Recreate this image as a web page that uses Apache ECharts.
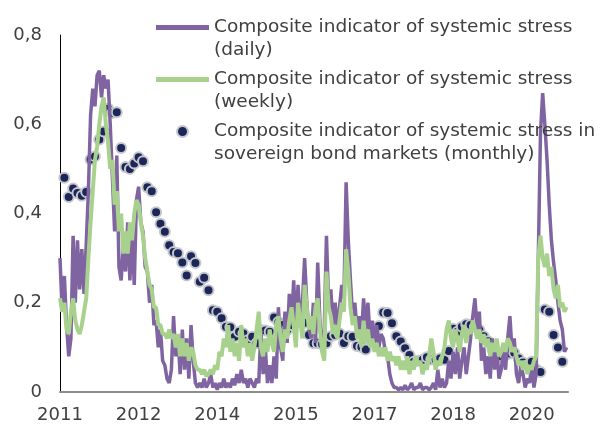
<!DOCTYPE html>
<html>
<head>
<meta charset="utf-8">
<script src="https://cdn.jsdelivr.net/npm/echarts@6/dist/echarts.min.js"></script>
<style>
  html, body { margin: 0; padding: 0; background: #fff; }
  #chart { width: 601px; height: 425px; }
</style>
</head>
<body>
<div id="chart"></div>
<script>
// x is counted in months from January 2011
const startYear = 2011;
const tickStep = 18; // a label every 18 months
const lineStep = 0.5; // daily / weekly series sampled every half month

const names = [
  'Composite indicator of systemic stress\n(daily)',
  'Composite indicator of systemic stress\n(weekly)',
  'Composite indicator of systemic stress in\nsovereign bond markets (monthly)'
];

const daily = [
  0.30,0.18, 0.26,0.15, 0.08,0.12, 0.35,0.20, 0.34,0.23, 0.32,0.22, 0.33,0.45, 0.62,0.68, 0.64,0.71, 0.72,0.66, 0.71,0.68, 0.70,0.60,
  0.48,0.36, 0.53,0.28, 0.25,0.33, 0.27,0.38, 0.25,0.36, 0.24,0.43, 0.46,0.38, 0.36,0.28, 0.27,0.20, 0.24,0.15, 0.16,0.10, 0.14,0.07,
  0.06,0.03, 0.02,0.05, 0.17,0.08, 0.13,0.04, 0.14,0.05, 0.12,0.03, 0.15,0.07, 0.02,0.01, 0.02,0.01, 0.03,0.01, 0.02,0.04, 0.01,0.02,
  0.005,0.02, 0.01,0.03, 0.01,0.02, 0.01,0.03, 0.015,0.04, 0.02,0.05, 0.02,0.03, 0.01,0.03, 0.02,0.01, 0.03,0.02, 0.14,0.04, 0.10,0.02,
  0.06,0.02, 0.08,0.03, 0.19,0.10, 0.07,0.18, 0.11,0.22, 0.15,0.25, 0.14,0.24, 0.15,0.20, 0.30,0.20, 0.14,0.12, 0.20,0.11, 0.29,0.16,
  0.09,0.14, 0.35,0.20, 0.23,0.15, 0.20,0.14, 0.19,0.24, 0.21,0.47, 0.34,0.25, 0.17,0.20, 0.14,0.17, 0.12,0.21, 0.14,0.20, 0.12,0.16,
  0.11,0.15, 0.10,0.13, 0.12,0.09, 0.08,0.04, 0.02,0.01, 0.01,0.005, 0.01,0.005, 0.015,0.005, 0.01,0.02, 0.005,0.01, 0.01,0.02, 0.005,0.01,
  0.01,0.005, 0.01,0.02, 0.005,0.05, 0.01,0.03, 0.01,0.02, 0.07,0.03, 0.09,0.04, 0.10,0.03, 0.07,0.10, 0.04,0.08, 0.12,0.17, 0.21,0.14,
  0.18,0.07, 0.10,0.04, 0.08,0.03, 0.12,0.05, 0.10,0.03, 0.05,0.09, 0.05,0.12, 0.17,0.09, 0.12,0.04, 0.02,0.06, 0.04,0.01, 0.03,0.02,
  0.06,0.01, 0.04,0.30, 0.58,0.67, 0.60,0.52, 0.42,0.34, 0.29,0.25, 0.20,0.16, 0.14,0.09, 0.10
];

const weekly = [
  0.21,0.18, 0.20,0.14, 0.13,0.18, 0.21,0.16, 0.14,0.13, 0.15,0.18, 0.21,0.30, 0.38,0.45, 0.52,0.55, 0.60,0.64, 0.66,0.60, 0.56,0.50,
  0.52,0.42, 0.45,0.36, 0.40,0.31, 0.36,0.31, 0.38,0.34, 0.40,0.43, 0.42,0.38, 0.35,0.30, 0.27,0.24, 0.23,0.19, 0.19,0.15, 0.15,0.13,
  0.13,0.12, 0.14,0.12, 0.13,0.10, 0.13,0.08, 0.12,0.08, 0.11,0.07, 0.10,0.09, 0.06,0.05, 0.05,0.04, 0.05,0.035, 0.04,0.05, 0.04,0.06,
  0.05,0.09, 0.08,0.12, 0.10,0.15, 0.09,0.12, 0.08,0.11, 0.07,0.15, 0.10,0.12, 0.08,0.11, 0.07,0.10, 0.14,0.18, 0.10,0.08, 0.12,0.09,
  0.14,0.11, 0.09,0.15, 0.17,0.12, 0.09,0.14, 0.12,0.16, 0.19,0.15, 0.10,0.20, 0.16,0.12, 0.24,0.19, 0.14,0.17, 0.13,0.19, 0.21,0.14,
  0.09,0.07, 0.27,0.19, 0.17,0.13, 0.15,0.12, 0.16,0.20, 0.18,0.32, 0.27,0.19, 0.15,0.17, 0.12,0.14, 0.10,0.16, 0.11,0.14, 0.10,0.12,
  0.09,0.11, 0.08,0.10, 0.08,0.10, 0.07,0.09, 0.07,0.08, 0.06,0.08, 0.05,0.07, 0.05,0.08, 0.04,0.07, 0.05,0.08, 0.06,0.07, 0.04,0.06,
  0.05,0.08, 0.12,0.09, 0.05,0.07, 0.06,0.08, 0.10,0.14, 0.16,0.12, 0.10,0.14, 0.12,0.09, 0.13,0.15, 0.11,0.14, 0.13,0.16, 0.14,0.12,
  0.14,0.11, 0.13,0.10, 0.12,0.08, 0.11,0.09, 0.12,0.08, 0.09,0.11, 0.09,0.12, 0.11,0.09, 0.10,0.08, 0.06,0.07, 0.05,0.07, 0.04,0.06,
  0.05,0.07, 0.08,0.30, 0.35,0.30, 0.28,0.31, 0.26,0.28, 0.23,0.21, 0.24,0.19, 0.20,0.18, 0.19
];

// month-end readings, months 1..115
const monthly = [
  0.48,0.437,0.456,0.446,0.44,0.448,0.521,0.528,0.566,0.584,
  0.635,0.625,0.627,0.547,0.504,0.50,0.512,0.526,0.517,0.459,
  0.45,0.403,0.377,0.359,0.329,0.314,0.311,0.29,0.261,0.304,
  0.289,0.247,0.256,0.228,0.183,0.18,0.165,0.146,0.145,0.124,
  0.135,0.131,0.116,0.124,0.109,0.139,0.138,0.135,0.167,0.157,
  0.15,0.139,0.15,0.165,0.172,0.155,0.128,0.109,0.109,0.107,
  0.109,0.125,0.128,0.131,0.11,0.125,0.124,0.103,0.101,0.095,
  0.118,0.135,0.148,0.178,0.177,0.154,0.125,0.113,0.098,0.083,
  0.068,0.07,0.072,0.078,0.073,0.072,0.075,0.072,0.092,0.142,
  0.135,0.146,0.152,0.15,0.146,0.139,0.125,0.114,0.095,0.086,
  0.08,0.083,0.086,0.088,0.075,0.066,0.06,0.068,0.051,0.045,
  0.185,0.18,0.128,0.10,0.068
];

const textColor = '#404040';
const font = 'DejaVu Sans';
const lineIcon = 'path://M0,0H53V5H0Z';

let chartDom = document.getElementById('chart');
let myChart = echarts.init(chartDom);
let option;

option = {
  animation: false,
  backgroundColor: '#fff',
  grid: { left: 60, right: 33, top: 35, bottom: 33 },
  legend: {
    orient: 'vertical',
    left: 156,
    top: -7,
    padding: 0,
    itemGap: -17,
    itemWidth: 53,
    itemHeight: 11,
    // leading empty line keeps the icon level with the first text line
    formatter: function (name) { return '\n' + name; },
    textStyle: { fontFamily: font, fontSize: 18.5, color: textColor, lineHeight: 23 },
    data: [
      { name: names[0], icon: lineIcon },
      { name: names[1], icon: lineIcon },
      { name: names[2], icon: 'circle' }
    ]
  },
  xAxis: {
    type: 'value',
    min: 0,
    max: 116.3,
    interval: tickStep,
    splitLine: { show: false },
    axisTick: { show: false },
    axisLine: { lineStyle: { color: '#8c8c8c', width: 2 } },
    axisLabel: {
      showMaxLabel: false,
      margin: 14,
      fontFamily: font,
      fontSize: 18,
      color: textColor,
      formatter: function (v) { return String(startYear + Math.floor(v / 12)); }
    }
  },
  yAxis: {
    type: 'value',
    min: 0,
    max: 0.8,
    interval: 0.2,
    splitLine: { show: false },
    axisTick: { show: false },
    axisLine: { show: true, lineStyle: { color: '#000', width: 1 } },
    axisLabel: {
      margin: 18,
      fontFamily: font,
      fontSize: 18,
      color: textColor,
      formatter: function (v) { return String(Math.round(v * 10) / 10).replace('.', ','); }
    }
  },
  series: [
    {
      name: names[0],
      type: 'line',
      symbol: 'none',
      data: daily.map((v, i) => [i * lineStep, v]),
      lineStyle: { color: '#8064a2', width: 3.5 },
      itemStyle: { color: '#8064a2' }
    },
    {
      name: names[1],
      type: 'line',
      symbol: 'none',
      data: weekly.map((v, i) => [i * lineStep, v]),
      lineStyle: { color: '#a9d18e', width: 4 },
      itemStyle: { color: '#a9d18e' }
    },
    {
      name: names[2],
      type: 'scatter',
      symbol: 'circle',
      symbolSize: 10,
      data: monthly.map((v, i) => [i + 1, v]),
      itemStyle: { color: '#1c2659', borderColor: '#c4c7cc', borderWidth: 2, opacity: 1 }
    }
  ]
};
myChart.setOption(option, true);
</script>
</body>
</html>
